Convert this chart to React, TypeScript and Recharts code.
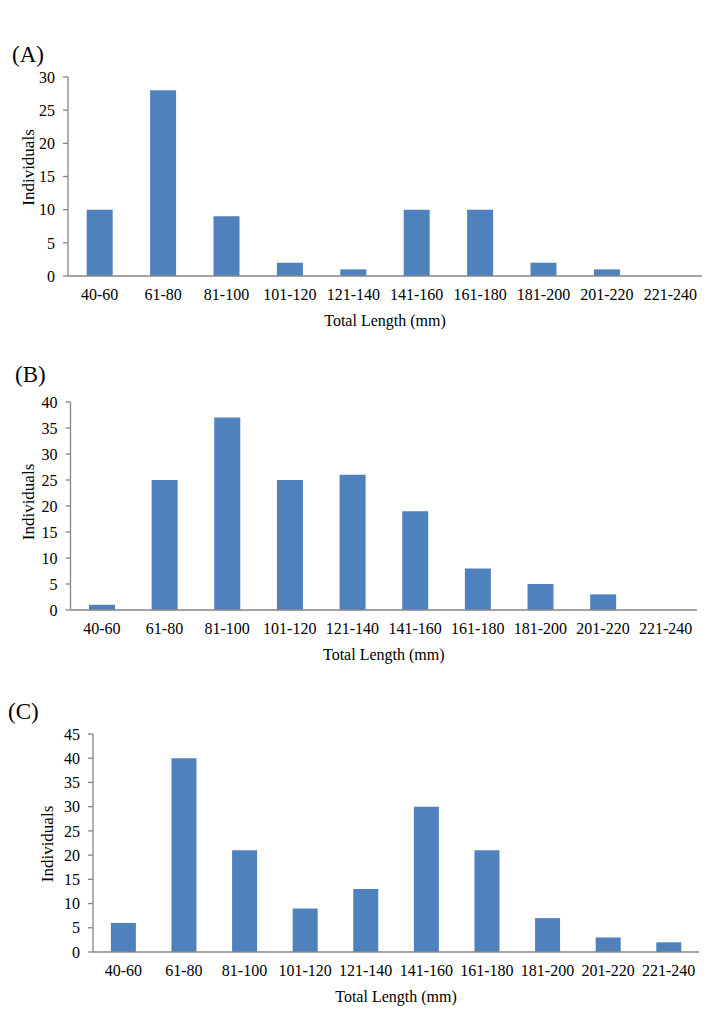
import { BarChart, Bar, XAxis, YAxis, Label } from 'recharts';

const lengthClasses = [
  '40-60',
  '61-80',
  '81-100',
  '101-120',
  '121-140',
  '141-160',
  '161-180',
  '181-200',
  '201-220',
  '221-240',
];

const countsA = [10, 28, 9, 2, 1, 10, 10, 2, 1, 0];
const countsB = [1, 25, 37, 25, 26, 19, 8, 5, 3, 0];
const countsC = [6, 40, 21, 9, 13, 30, 21, 7, 3, 2];

const ticksA = [0, 5, 10, 15, 20, 25, 30];
const ticksB = [0, 5, 10, 15, 20, 25, 30, 35, 40];
const ticksC = [0, 5, 10, 15, 20, 25, 30, 35, 40, 45];

const BAR_COLOR = '#4f81bd';
const AXIS_COLOR = '#868686';
const FONT = "'Liberation Serif', 'Times New Roman', serif";
const Y_AXIS_W = 50;

interface PanelProps {
  letter: string;
  counts: number[];
  ticks: number[];
  top: number;
  height: number;
  plotLeft: number;
  plotRight: number;
  plotTop: number;
  plotBottom: number;
  letterX: number;
  letterY: number;
  yLabelX: number;
  yLabelShift: number;
}

function Panel(p: PanelProps) {
  const data = lengthClasses.map((name, i) => ({ name, count: p.counts[i] }));
  const margin = {
    top: p.plotTop - p.top,
    bottom: p.top + p.height - p.plotBottom - 30,
    left: p.plotLeft - Y_AXIS_W,
    right: 727 - p.plotRight,
  };

  return (
    <div style={{ position: 'absolute', left: 0, top: p.top, width: 727, height: p.height }}>
      <div
        style={{
          position: 'absolute',
          left: p.letterX,
          top: p.letterY - p.top - 12,
          fontFamily: FONT,
          fontSize: 23,
          lineHeight: '24px',
          color: '#000',
        }}
      >
        ({p.letter})
      </div>
      <BarChart width={727} height={p.height} data={data} margin={margin} barCategoryGap="29.5%">
        <XAxis
          dataKey="name"
          height={30}
          stroke={AXIS_COLOR}
          strokeWidth={1.3}
          tickLine={false}
          tickSize={0}
          tickMargin={13}
          interval={0}
          tick={{ fill: '#000', fontSize: 16 }}
        >
          <Label
            content={({ viewBox }: any) => (
              <text
                x={viewBox.x + viewBox.width / 2}
                y={viewBox.y + 44}
                textAnchor="middle"
                dominantBaseline="central"
                style={{ fontFamily: FONT, fontSize: 16 }}
                fill="#000"
              >
                Total Length (mm)
              </text>
            )}
          />
        </XAxis>
        <YAxis
          width={Y_AXIS_W}
          domain={[0, p.ticks[p.ticks.length - 1]]}
          ticks={p.ticks}
          interval={0}
          stroke={AXIS_COLOR}
          strokeWidth={1.3}
          tickSize={5}
          tickMargin={8}
          tick={{ fill: '#000', fontSize: 16 }}
        >
          <Label
            content={({ viewBox }: any) => {
              const cy = viewBox.y + viewBox.height / 2 + p.yLabelShift;
              return (
                <text
                  x={p.yLabelX}
                  y={cy}
                  transform={`rotate(-90, ${p.yLabelX}, ${cy})`}
                  textAnchor="middle"
                  dominantBaseline="central"
                  style={{ fontFamily: FONT, fontSize: 17 }}
                  fill="#000"
                >
                  Individuals
                </text>
              );
            }}
          />
        </YAxis>
        <Bar dataKey="count" fill={BAR_COLOR} isAnimationActive={false} />
      </BarChart>
    </div>
  );
}

export default function App() {
  return (
    <div
      style={{
        position: 'absolute',
        left: 0,
        top: 0,
        width: 727,
        height: 1023,
        background: '#fff',
        fontFamily: FONT,
      }}
    >
      <style>{`.recharts-wrapper text, .recharts-wrapper tspan { font-family: ${FONT} !important; }`}</style>
      <Panel
        letter="A"
        counts={countsA}
        ticks={ticksA}
        top={30}
        height={310}
        plotLeft={68}
        plotRight={702}
        plotTop={77}
        plotBottom={276}
        letterX={12}
        letterY={55}
        yLabelX={28}
        yLabelShift={-9}
      />
      <Panel
        letter="B"
        counts={countsB}
        ticks={ticksB}
        top={355}
        height={320}
        plotLeft={70.5}
        plotRight={697}
        plotTop={402}
        plotBottom={610}
        letterX={15}
        letterY={375}
        yLabelX={28}
        yLabelShift={-4}
      />
      <Panel
        letter="C"
        counts={countsC}
        ticks={ticksC}
        top={690}
        height={325}
        plotLeft={93}
        plotRight={699}
        plotTop={734}
        plotBottom={952}
        letterX={8}
        letterY={712}
        yLabelX={47}
        yLabelShift={1}
      />
    </div>
  );
}
